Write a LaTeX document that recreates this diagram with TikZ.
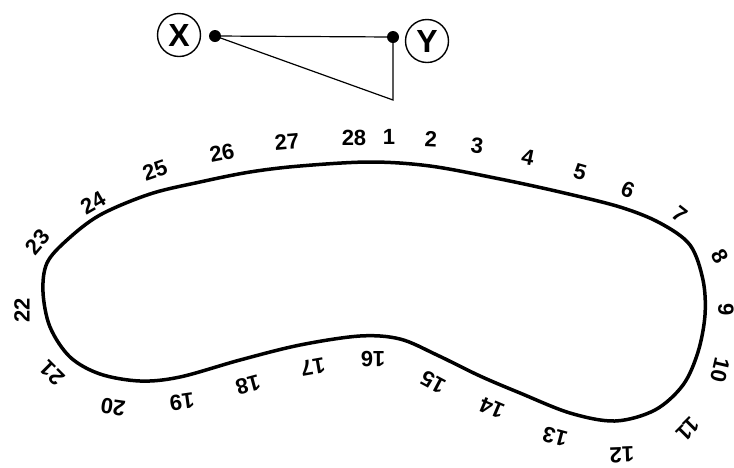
\documentclass[tikz,border=0pt]{standalone}
\usepackage{fontspec}
\setmainfont{Liberation Sans}
\begin{document}
\begin{tikzpicture}[x=1pt,y=-1pt,
  num/.style={font=\fontsize{22}{22}\selectfont\bfseries, inner sep=0pt},
  letter/.style={circle, draw, line width=1.4pt, minimum size=43pt, inner sep=0pt, font=\fontsize{32}{32}\selectfont\bfseries},
  dot/.style={circle, fill, minimum size=12pt, inner sep=0pt},
  thin/.style={line width=1.2pt}]
\useasboundingbox (0,0) rectangle (734,467);
% top figure
\node[letter] (X) at (179,35) {X};
\node[letter] (Y) at (427,41) {Y};
\node[dot] (xd) at (215,36) {};
\node[dot] (yd) at (393,37) {};
\coordinate (c) at (393,100);
\draw[thin] (xd.center) -- (yd.center) -- (c) -- (xd.center);
% outline
\draw[line width=3.5pt, line join=round] plot[smooth cycle, tension=0.55] coordinates {
(370,162) (430,166) (500,179) (560,192) (620,207) (660,223) (690,245) (703,280)
(705,315) (698,352) (683,385) (655,410) (615,421) (570,413) (520,393) (480,376)
(437,355) (400,339) (360,336) (300,345) (240,360) (180,377) (140,381) (100,374)
(70,357) (50,327) (43,292) (47,263) (67,240) (100,215) (150,194) (200,182)
(250,172) (300,166)};
% labels
\node[num, rotate=0]    (l1)  at (389,137) {1};
\node[num, rotate=-3]   (l2)  at (431,139) {2};
\node[num, rotate=-7]   (l3)  at (477,146) {3};
\node[num, rotate=-12]  (l4)  at (528,157) {4};
\node[num, rotate=-16]  (l5)  at (580,172) {5};
\node[num, rotate=-22]  (l6)  at (628,190) {6};
\node[num, rotate=-38]  (l7)  at (680,214) {7};
\node[num, rotate=-62]  (l8)  at (720,256) {8};
\node[num, rotate=-90]  (l9)  at (726,310) {9};
\node[num, rotate=-103] (l10) at (720,370) {10};
\node[num, rotate=-135] (l11) at (688,429) {11};
\node[num, rotate=182]  (l12) at (622,455) {12};
\node[num, rotate=165]  (l13) at (555,437) {13};
\node[num, rotate=157]  (l14) at (492,408) {14};
\node[num, rotate=152]  (l15) at (433,382) {15};
\node[num, rotate=180]  (l16) at (373,359) {16};
\node[num, rotate=190]  (l17) at (313,367) {17};
\node[num, rotate=195]  (l18) at (248,385) {18};
\node[num, rotate=188]  (l19) at (182,402) {19};
\node[num, rotate=172]  (l20) at (113,407) {20};
\node[num, rotate=135]  (l21) at (52,373) {21};
\node[num, rotate=90]   (l22) at (22,310) {22};
\node[num, rotate=50]   (l23) at (38,242) {23};
\node[num, rotate=30]   (l24) at (93,203) {24};
\node[num, rotate=19]   (l25) at (155,170) {25};
\node[num, rotate=11]   (l26) at (222,153) {26};
\node[num, rotate=5]    (l27) at (287,142) {27};
\node[num, rotate=0]    (l28) at (354,138) {28};
\end{tikzpicture}
\end{document}
